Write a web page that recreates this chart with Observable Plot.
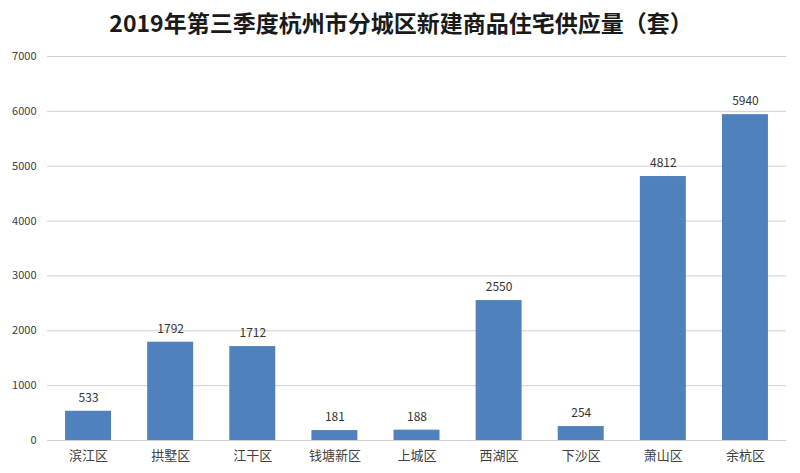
<!DOCTYPE html>
<html><head><meta charset="utf-8">
<script src="https://cdn.jsdelivr.net/npm/d3@7"></script>
<script src="https://cdn.jsdelivr.net/npm/@observablehq/plot@0.6"></script>
<style>
body{margin:0;background:#fff;font-family:"Noto Sans CJK SC","Noto Sans",sans-serif;}
#title{height:44px;line-height:44px;text-align:center;font-size:23px;font-weight:bold;color:#1a1a1a;padding-left:2px;}
</style></head>
<body>
<div id="title">2019年第三季度杭州市分城区新建商品住宅供应量（套）</div>
<div id="chart"></div>
<script>
const districts = ["滨江区","拱墅区","江干区","钱塘新区","上城区","西湖区","下沙区","萧山区","余杭区"];
const supply = [533,1792,1712,181,188,2550,254,4812,5940];
const yTicks = [0,1000,2000,3000,4000,5000,6000,7000];
const data = districts.map((d,i)=>({district:d, value:supply[i]}));
const chart = Plot.plot({
  width:800, height:429,
  marginTop:12, marginBottom:33, marginLeft:47, marginRight:14,
  style:{fontFamily:"'Noto Sans CJK SC','Noto Sans',sans-serif", fontSize:"12px", color:"#404040", background:"#fff"},
  x:{domain:districts, paddingInner:0.44, paddingOuter:0.22, round:false, label:null},
  y:{domain:[0,7000], label:null},
  marks:[
    Plot.gridY(yTicks,{stroke:"#d0d0d0", strokeOpacity:1, strokeWidth:1}),
    Plot.barY(data,{x:"district", y:"value", fill:"#4f81bd"}),
    Plot.text(data,{x:"district", y:"value", text:d=>String(d.value), dy:-13, fill:"#333", fontSize:12}),
    Plot.axisX({tickSize:0, tickPadding:10, fontSize:13, fill:"#404040"}),
    Plot.axisY(yTicks,{tickSize:0, tickPadding:11, fontSize:11, tickFormat:d=>String(d), fill:"#404040"})
  ]
});
document.getElementById("chart").appendChild(chart);
</script>
</body></html>
